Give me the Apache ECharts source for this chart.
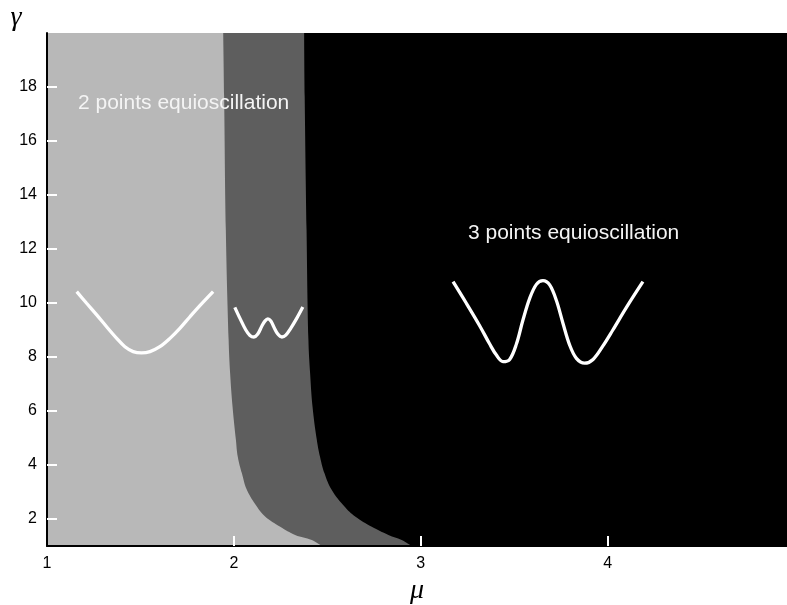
<!DOCTYPE html>
<html>
<head>
<meta charset="utf-8">
<script src="https://cdn.jsdelivr.net/npm/echarts@6/dist/echarts.min.js"></script>
<style>
html,body{margin:0;padding:0;background:#fff;}
#chart{width:787px;height:605px;}
</style>
</head>
<body>
<div id="chart"></div>
<script>
// Axis ticks
const muTickLabels = [1, 2, 3, 4];
const muTickMarks = [2, 3, 4];
const gammaTicks = [2, 4, 6, 8, 10, 12, 14, 16, 18];

// Region boundaries (mu as function of gamma)
const boundaryGamma = [20.0, 17.63, 12.70, 8.63, 7.40, 6.16, 4.93, 4.31, 3.69, 3.07, 2.46, 2.09, 1.71, 1.41, 1.22, 1.0];
const boundary1Mu   = [1.943, 1.948, 1.957, 1.972, 1.980, 1.993, 2.011, 2.021, 2.043, 2.070, 2.123, 2.167, 2.248, 2.328, 2.417, 2.47];
const boundary2Mu   = [2.376, 2.379, 2.389, 2.399, 2.408, 2.421, 2.444, 2.461, 2.485, 2.524, 2.592, 2.649, 2.738, 2.827, 2.898, 2.95];

// Inset sketch curves
const vMu    = [1.159, 1.212, 1.266, 1.319, 1.373, 1.417, 1.461, 1.506, 1.551, 1.604, 1.658, 1.711, 1.765, 1.818, 1.889];
const vGamma = [10.42, 9.99, 9.56, 9.12, 8.69, 8.38, 8.20, 8.15, 8.20, 8.38, 8.69, 9.06, 9.49, 9.90, 10.42];

const wSmallMu    = [2.005, 2.032, 2.064, 2.086, 2.107, 2.128, 2.150, 2.166, 2.182, 2.198, 2.214, 2.235, 2.257, 2.278, 2.305, 2.337, 2.369];
const wSmallGamma = [9.84, 9.44, 9.00, 8.80, 8.74, 8.85, 9.15, 9.33, 9.41, 9.33, 9.11, 8.85, 8.74, 8.81, 9.07, 9.44, 9.85];

const wBigMu    = [3.173, 3.244, 3.316, 3.369, 3.405, 3.440, 3.476, 3.512, 3.547, 3.583, 3.619, 3.654, 3.690, 3.726, 3.761, 3.797, 3.833, 3.877, 3.922, 3.975, 4.028, 4.100, 4.189];
const wBigGamma = [10.79, 9.99, 9.15, 8.48, 8.07, 7.83, 7.91, 8.48, 9.37, 10.17, 10.69, 10.83, 10.67, 10.09, 9.25, 8.44, 7.95, 7.77, 7.91, 8.41, 9.00, 9.83, 10.79];

const muMin = 1, muMax = 4.96, gammaMin = 1, gammaMax = 20;

const chart = echarts.init(document.getElementById('chart'), null, {renderer: 'canvas'});

// Smooth boundary (drawn as a cubic-bezier path through the projected points)
function smoothPathData(pts, s) {
  const n = pts.length;
  const cpOut = [], cpIn = [];
  for (let i = 0; i < n; i++) {
    if (i === 0 || i === n - 1) { cpOut.push(pts[i]); cpIn.push(pts[i]); continue; }
    const p = pts[i], a = pts[i - 1], b = pts[i + 1];
    const vx = b[0] - a[0], vy = b[1] - a[1];
    const d0 = Math.hypot(p[0] - a[0], p[1] - a[1]);
    const d1 = Math.hypot(b[0] - p[0], b[1] - p[1]);
    const t = d0 + d1 || 1;
    cpIn.push([p[0] - vx * s * d0 / t, p[1] - vy * s * d0 / t]);
    cpOut.push([p[0] + vx * s * d1 / t, p[1] + vy * s * d1 / t]);
  }
  let d = '';
  for (let i = 0; i < n - 1; i++) {
    const c1 = cpOut[i], c2 = cpIn[i + 1], q = pts[i + 1];
    d += ' C ' + c1[0] + ' ' + c1[1] + ' ' + c2[0] + ' ' + c2[1] + ' ' + q[0] + ' ' + q[1];
  }
  return d;
}

function regionSeries(name, muArr, color) {
  return {
    type: 'custom', name: name, coordinateSystem: 'cartesian2d', clip: true, silent: true, z: 1,
    data: [[muMin, gammaMin]],
    renderItem: function (params, api) {
      const tl = api.coord([muMin, gammaMax]);
      const bl = api.coord([muMin, gammaMin]);
      const pts = muArr.map((m, i) => api.coord([m, boundaryGamma[i]]));
      const d = 'M ' + tl[0] + ' ' + tl[1] + ' L ' + pts[0][0] + ' ' + pts[0][1] +
        smoothPathData(pts, 0.4) + ' L ' + bl[0] + ' ' + bl[1] + ' Z';
      return {type: 'path', shape: {pathData: d}, style: {fill: color}};
    }
  };
}

function curveSeries(name, xs, ys) {
  return {
    type: 'line', name: name, data: xs.map((x, i) => [x, ys[i]]),
    smooth: 0.35, symbol: 'none', silent: true, z: 3,
    lineStyle: {color: '#ffffff', width: 3.3}
  };
}

const labelFont = {color: '#000', fontFamily: 'Liberation Sans, Arial, sans-serif', fontSize: 16};

chart.setOption({
  animation: false,
  grid: {left: 47, right: 0, top: 33, bottom: 59, show: true, backgroundColor: '#000000', borderWidth: 0,
         containLabel: false, outerBoundsMode: 'none'},
  xAxis: {
    type: 'value', min: muMin, max: muMax, z: 10,
    name: 'μ', nameLocation: 'middle', nameGap: 26,
    nameTextStyle: {fontFamily: 'Liberation Serif, serif', fontStyle: 'italic', fontSize: 28, color: '#000'},
    axisLine: {show: true, onZero: false, lineStyle: {color: '#000', width: 2}},
    axisTick: {show: true, inside: true, length: 10, customValues: muTickMarks, lineStyle: {color: '#fff', width: 2}},
    axisLabel: Object.assign({margin: 10, customValues: muTickLabels}, labelFont),
    splitLine: {show: false}
  },
  yAxis: {
    type: 'value', min: gammaMin, max: gammaMax, z: 10,
    axisLine: {show: true, onZero: false, lineStyle: {color: '#000', width: 2}},
    axisTick: {show: true, inside: true, length: 10, customValues: gammaTicks, lineStyle: {color: '#fff', width: 2}},
    axisLabel: Object.assign({margin: 10, customValues: gammaTicks}, labelFont),
    splitLine: {show: false}
  },
  graphic: [
    {type: 'text', x: 16, y: 18, z: 100, style: {text: 'γ', fill: '#000', font: 'italic 28px "Liberation Serif", serif', textAlign: 'center', textVerticalAlign: 'middle'}},
    {type: 'text', x: 78, y: 103, z: 100, style: {text: '2 points equioscillation', fill: '#f4f4f4', font: '21px "Liberation Sans", Arial, sans-serif', textAlign: 'left', textVerticalAlign: 'middle'}},
    {type: 'text', x: 468, y: 233, z: 100, style: {text: '3 points equioscillation', fill: '#f4f4f4', font: '21px "Liberation Sans", Arial, sans-serif', textAlign: 'left', textVerticalAlign: 'middle'}}
  ],
  series: [
    regionSeries('transition region', boundary2Mu, '#5e5e5e'),
    regionSeries('2 points equioscillation', boundary1Mu, '#b8b8b8'),
    curveSeries('2-point sketch', vMu, vGamma),
    curveSeries('transition sketch', wSmallMu, wSmallGamma),
    curveSeries('3-point sketch', wBigMu, wBigGamma)
  ]
});
</script>
</body>
</html>
